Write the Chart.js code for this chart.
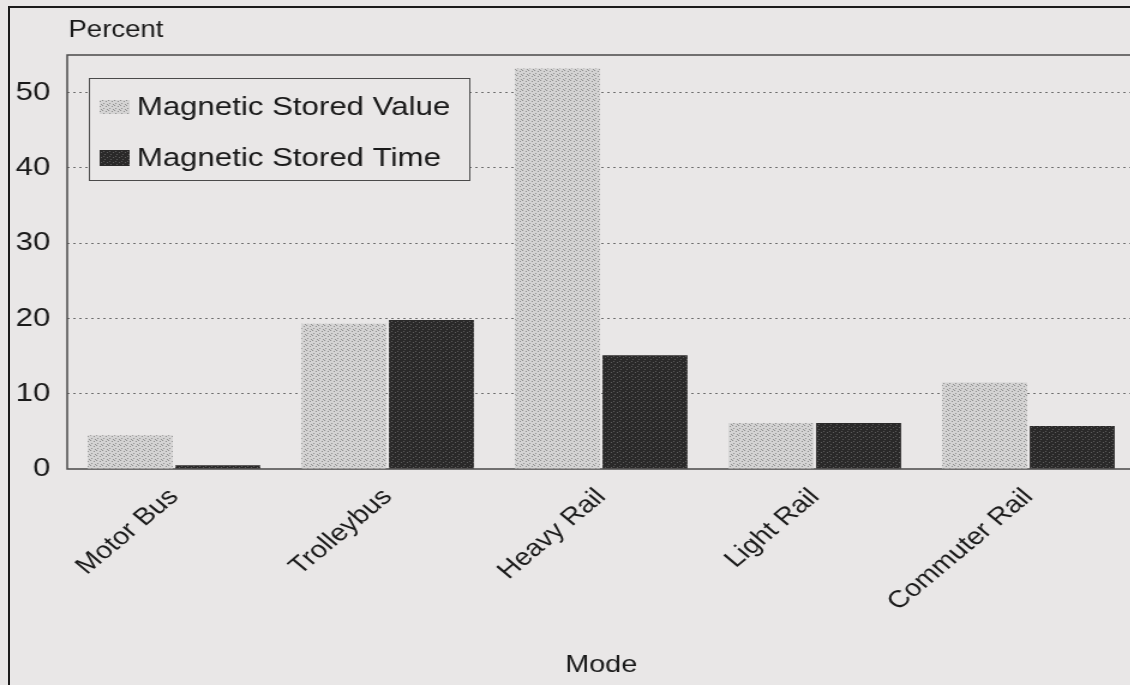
<!DOCTYPE html>
<html>
<head>
<meta charset="utf-8">
<title>Stored fare media by mode</title>
<script src="https://cdn.jsdelivr.net/npm/chart.js@4.4.1/dist/chart.umd.min.js"></script>
<style>
	body {
		margin: 0;
		background: #e9e7e7;
		overflow: hidden;
	}
	#clip {
		position: absolute;
		left: 0;
		top: 0;
		width: 1130px;
		height: 685px;
		overflow: hidden;
	}
	#stretch {
		width: 946px;
		height: 685px;
		transform: scaleX(1.2);
		transform-origin: 0 0;
	}
	#frame {
		position: absolute;
		left: 8px;
		top: 6px;
		width: 1122px;
		height: 679px;
		border-left: 2px solid #1c1c1c;
		border-top: 2px solid #1c1c1c;
		pointer-events: none;
	}
</style>
</head>
<body>
<div id="clip">
	<div id="stretch">
		<canvas id="modeChart" width="946" height="685"></canvas>
	</div>
</div>
<div id="frame"></div>
<script>
"use strict";

var modes = ["Motor Bus", "Trolleybus", "Heavy Rail", "Light Rail", "Commuter Rail"];
var storedValue = [4.5, 19.3, 53.2, 6.1, 11.5];
var storedTime = [0.5, 19.8, 15.1, 6.1, 5.7];
var yTicks = [0, 10, 20, 30, 40, 50];

var fontFamily = "'Liberation Sans', Arial, Helvetica, sans-serif";
var textColor = "#1a1a1a";

// small dotted tiles to imitate the halftone fills
function makePattern(base, dot, spots) {
	var tile = document.createElement("canvas");
	tile.width = 5;
	tile.height = 5;
	var c = tile.getContext("2d");
	c.fillStyle = base;
	c.fillRect(0, 0, 5, 5);
	c.fillStyle = dot;
	spots.forEach(function (p) {
		c.fillRect(p[0], p[1], 1, 1);
	});
	return c.createPattern(tile, "repeat");
}

var lightFill = makePattern("#d4d3d3", "#8f8f8f", [[0, 0], [3, 1], [1, 3], [4, 4]]);
var darkFill = makePattern("#2a2929", "#5e5d5d", [[1, 1], [4, 2], [2, 4]]);

// frame of the plot, title text and boxed legend
var decorPlugin = {
	id: "decor",
	beforeDatasetsDraw: function (chart) {
		var ctx = chart.ctx;
		var a = chart.chartArea;
		ctx.save();
		ctx.strokeStyle = "#4a4a4a";
		ctx.lineWidth = 1.5;
		ctx.beginPath();
		ctx.moveTo(a.right, a.top);
		ctx.lineTo(a.left, a.top);
		ctx.lineTo(a.left, a.bottom);
		ctx.lineTo(a.right, a.bottom);
		ctx.stroke();
		ctx.restore();
	},
	afterDraw: function (chart) {
		var ctx = chart.ctx;
		ctx.save();
		ctx.fillStyle = textColor;
		ctx.textBaseline = "middle";
		ctx.textAlign = "left";
		ctx.font = "23px " + fontFamily;
		ctx.fillText("Percent", 57, 31);

		// legend box
		ctx.fillStyle = "#e9e7e7";
		ctx.fillRect(74, 78, 318, 103);
		ctx.strokeStyle = "#4a4a4a";
		ctx.lineWidth = 1;
		ctx.strokeRect(74.5, 78.5, 317, 102);

		var rows = [
			{ y: 107, fill: lightFill, h: 14 },
			{ y: 158, fill: darkFill, h: 16 },
		];
		ctx.font = "26px " + fontFamily;
		chart.data.datasets.forEach(function (ds, i) {
			var r = rows[i];
			ctx.fillStyle = r.fill;
			ctx.fillRect(83, r.y - r.h / 2, 25, r.h);
			ctx.fillStyle = textColor;
			ctx.fillText(ds.label, 114, r.y + 1);
		});
		ctx.restore();
	},
};

// Initialize Mode Bar
function initModeBar() {
	var modeChart = document.getElementById("modeChart");
	new Chart(modeChart, {
		type: "bar",
		data: {
			labels: modes,
			datasets: [
				{
					label: "Magnetic Stored Value",
					data: storedValue,
					backgroundColor: lightFill,
				},
				{
					label: "Magnetic Stored Time",
					data: storedTime,
					backgroundColor: darkFill,
				},
			],
		},
		plugins: [decorPlugin],
		options: {
			responsive: false,
			animation: false,
			barPercentage: 0.97,
			categoryPercentage: 0.82,
			layout: {
				padding: { top: 55, left: 0, right: 0, bottom: 0 },
			},
			scales: {
				y: {
					min: 0,
					max: 55,
					afterBuildTicks: function (scale) {
						scale.ticks = yTicks.map(function (v) {
							return { value: v };
						});
					},
					afterFit: function (scale) {
						scale.width = 56;
					},
					grid: {
						drawTicks: false,
						color: function (ctx) {
							return ctx.tick && ctx.tick.value > 0 ? "#6f6f6f" : "rgba(0,0,0,0)";
						},
						lineWidth: 1,
					},
					border: {
						display: false,
						dash: [2, 3],
					},
					ticks: {
						padding: 14,
						color: textColor,
						font: {
							family: fontFamily,
							size: 26,
						},
					},
				},
				x: {
					afterFit: function (scale) {
						scale.height = 216;
					},
					grid: {
						display: false,
					},
					border: {
						display: false,
					},
					ticks: {
						minRotation: 45,
						maxRotation: 45,
						padding: 6,
						color: textColor,
						font: {
							family: fontFamily,
							size: 24,
						},
					},
					title: {
						display: true,
						text: "Mode",
						color: textColor,
						padding: { top: 0, bottom: 5 },
						font: {
							family: fontFamily,
							size: 24,
						},
					},
				},
			},
			plugins: {
				legend: {
					display: false,
				},
				tooltip: {
					enabled: false,
				},
			},
		},
	});
}

(function () {
	initModeBar();
})();
</script>
</body>
</html>
